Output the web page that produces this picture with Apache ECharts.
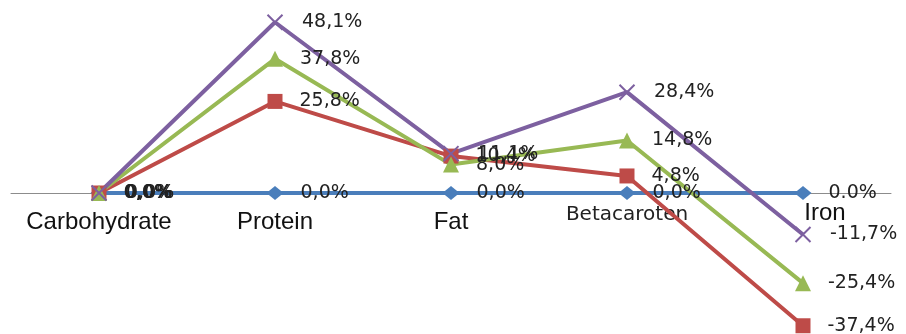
<!DOCTYPE html>
<html>
<head>
<meta charset="utf-8">
<script src="https://cdn.jsdelivr.net/npm/echarts@6/dist/echarts.min.js"></script>
<style>
  html, body { margin: 0; padding: 0; background: #fff; }
  #main { width: 906px; height: 334px; }
</style>
</head>
<body>
<div id="main"></div>
<script>
// categories and the four series (percent change)
var categories = ['Carbohydrate', 'Protein', 'Fat', 'Betacaroten', 'Iron'];
var blueValues = [0, 0, 0, 0, 0];
var redValues = [0, 25.8, 10.4, 4.8, -37.4];
var greenValues = [0, 37.8, 8.0, 14.8, -25.4];
var purpleValues = [0, 48.1, 11.1, 28.4, -11.7];

// percent with comma decimals, the last blue label uses a dot
function pct(v) {
    return v.toFixed(1).replace('.', ',') + '%';
}

function makeSeries(name, values, color, symbol, size, extra) {
    var s = {
        name: name,
        type: 'line',
        data: values,
        symbol: symbol,
        symbolSize: size,
        lineStyle: { color: color, width: 4 },
        itemStyle: { color: color },
        label: {
            show: true,
            position: 'right',
            distance: 17,
            color: '#222',
            fontFamily: 'DejaVu Sans',
            fontSize: 19,
            formatter: function (p) { return pct(p.value); }
        },
        animation: false
    };
    if (extra) extra(s);
    return s;
}

var myChart = echarts.init(document.getElementById('main'));

// y range -40..50 over 319.5px puts zero at 193; the x axis sits on zero
var yMin = -40, yMax = 50, gridTop = 15.5, gridHeight = 319.5;
var zeroOffset = -gridHeight * (0 - yMin) / (yMax - yMin);

myChart.setOption({
    backgroundColor: '#fff',
    grid: { left: 11, right: 15, top: gridTop, height: gridHeight, outerBoundsMode: 'none', containLabel: false },
    xAxis: {
        type: 'category',
        data: categories,
        boundaryGap: true,
        position: 'bottom',
        offset: zeroOffset,
        axisLine: { onZero: false, lineStyle: { color: '#8c8c8c', width: 1 } },
        axisTick: { show: false },
        axisLabel: {
            interval: 0,
            margin: 17,
            color: '#111',
            formatter: function (v) {
                if (v === 'Iron') return '{iron|' + v + '}';
                if (v === 'Betacaroten') return '{beta|' + v + '}';
                return '{base|' + v + '}';
            },
            rich: {
                base: { fontFamily: 'Liberation Sans', fontSize: 24, lineHeight: 24, color: '#111' },
                beta: { fontFamily: 'DejaVu Sans', fontSize: 20, lineHeight: 10, color: '#222' },
                iron: { fontFamily: 'Liberation Sans', fontSize: 24, lineHeight: 6, color: '#111', padding: [0, 0, 0, 44] }
            }
        }
    },
    yAxis: {
        type: 'value',
        min: yMin,
        max: yMax,
        show: false,
        splitLine: { show: false }
    },
    series: [
        makeSeries('blue', blueValues, '#4a7ebb', 'diamond', [17, 14], function (s) {
            s.label.formatter = function (p) {
                return p.dataIndex === categories.length - 1 ? '0.0%' : pct(p.value);
            };
        }),
        makeSeries('red', redValues, '#be4b48', 'rect', 15),
        makeSeries('green', greenValues, '#98b954', 'triangle', 16),
        makeSeries('purple', purpleValues, '#7d60a0', 'path://M0,0L10,10M10,0L0,10', 15, function (s) {
            s.itemStyle = { color: 'none', borderColor: '#7d60a0', borderWidth: 2 };
        })
    ]
});
</script>
</body>
</html>
